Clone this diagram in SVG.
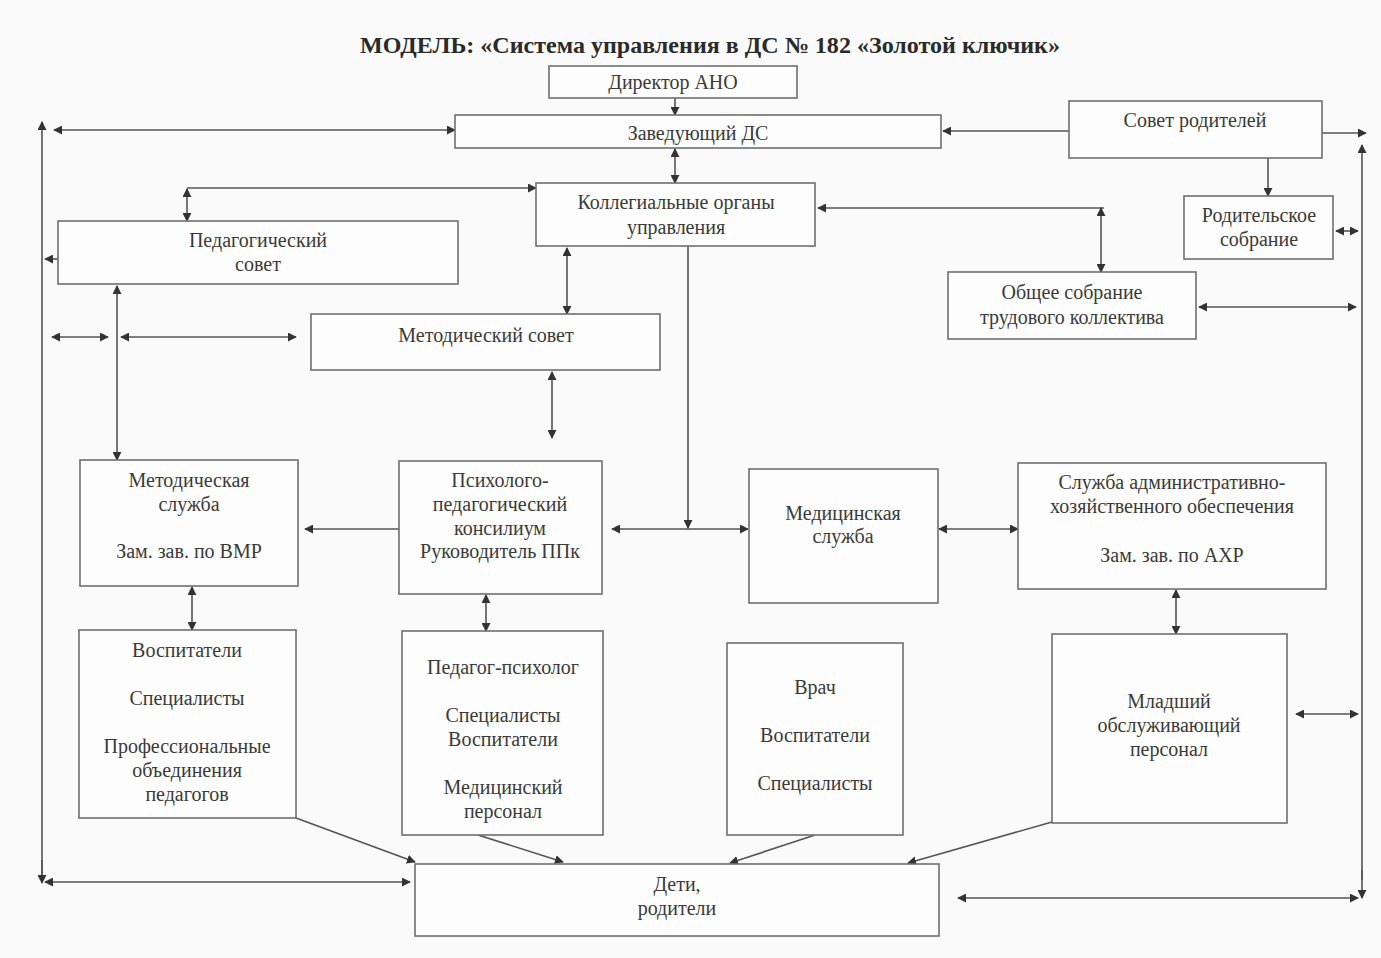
<svg xmlns="http://www.w3.org/2000/svg" width="1381" height="958" viewBox="0 0 1381 958">
<defs>
<marker id="ah" viewBox="0 0 10 10" refX="9" refY="5" markerWidth="9" markerHeight="9" markerUnits="userSpaceOnUse" orient="auto-start-reverse">
<path d="M0,0 L10,5 L0,10 z" fill="#333"/>
</marker>
<style>
.box{fill:#fdfdfd;stroke:#6f6f6f;stroke-width:1.6}
.t{font-family:"Liberation Serif","DejaVu Serif",serif;font-size:20px;fill:#3a3a3a;text-anchor:middle}
.title{font-family:"Liberation Serif","DejaVu Serif",serif;font-size:23px;font-weight:bold;fill:#2a2a2a;text-anchor:middle}
.c{fill:none;stroke:#555;stroke-width:1.6}
.a{marker-end:url(#ah)}
.d{marker-start:url(#ah);marker-end:url(#ah)}
</style>
</defs>
<rect x="0" y="0" width="1381" height="958" fill="#fafafa"/>
<text class="title" x="710" y="53" textLength="700" lengthAdjust="spacingAndGlyphs">МОДЕЛЬ: «Система управления в ДС № 182 «Золотой ключик»</text>

<g id="connectors">
<line class="c a" x1="675" y1="98" x2="675" y2="115"/>
<line class="c d" x1="54" y1="130" x2="455" y2="130"/>
<line class="c a" x1="42" y1="880" x2="42" y2="122"/>
<line class="c a" x1="42" y1="860" x2="42" y2="883"/>
<line class="c a" x1="1069" y1="131" x2="943" y2="131"/>
<line class="c a" x1="1322" y1="133" x2="1366" y2="133"/>
<line class="c a" x1="1362" y1="880" x2="1362" y2="145"/>
<line class="c a" x1="1362" y1="870" x2="1362" y2="898"/>
<line class="c a" x1="1268" y1="158" x2="1268" y2="196"/>
<line class="c d" x1="1336" y1="231" x2="1358" y2="231"/>
<line class="c d" x1="675" y1="149" x2="675" y2="183"/>
<line class="c a" x1="187" y1="188" x2="536" y2="188"/>
<line class="c d" x1="187" y1="189" x2="187" y2="221"/>
<line class="c a" x1="58" y1="259" x2="45" y2="259"/>
<line class="c d" x1="117" y1="286" x2="117" y2="460"/>
<line class="c d" x1="52" y1="337" x2="108" y2="337"/>
<line class="c d" x1="121" y1="337" x2="296" y2="337"/>
<line class="c d" x1="567" y1="248" x2="567" y2="314"/>
<line class="c d" x1="552" y1="372" x2="552" y2="438"/>
<line class="c a" x1="688" y1="246" x2="688" y2="528"/>
<line class="c d" x1="612" y1="529" x2="748" y2="529"/>
<line class="c a" x1="399" y1="529" x2="305" y2="529"/>
<line class="c a" x1="1104" y1="208" x2="818" y2="208"/>
<line class="c d" x1="1101" y1="208" x2="1101" y2="272"/>
<line class="c d" x1="1199" y1="307" x2="1356" y2="307"/>
<line class="c d" x1="939" y1="529" x2="1018" y2="529"/>
<line class="c d" x1="192" y1="587" x2="192" y2="630"/>
<line class="c d" x1="486" y1="595" x2="486" y2="631"/>
<line class="c d" x1="1176" y1="590" x2="1176" y2="634"/>
<line class="c d" x1="1296" y1="714" x2="1358" y2="714"/>
<line class="c d" x1="45" y1="882" x2="410" y2="882"/>
<line class="c d" x1="958" y1="898" x2="1358" y2="898"/>
<line class="c a" x1="296" y1="818" x2="415" y2="862"/>
<line class="c a" x1="478" y1="835" x2="563" y2="862"/>
<line class="c a" x1="815" y1="835" x2="730" y2="863"/>
<line class="c a" x1="1052" y1="822" x2="908" y2="863"/>
</g>

<g id="director"><rect class="box" x="549" y="66" width="248" height="32"/><text class="t" x="673" y="89">Директор АНО</text></g>
<g id="head"><rect class="box" x="455" y="115" width="486" height="33"/><text class="t" x="698" y="140">Заведующий ДС</text></g>
<g id="parents-council"><rect class="box" x="1069" y="101" width="253" height="57"/><text class="t" x="1195" y="127">Совет родителей</text></g>
<g id="collegial"><rect class="box" x="536" y="183" width="279" height="63"/><text class="t" x="676" y="209">Коллегиальные органы</text><text class="t" x="676" y="234">управления</text></g>
<g id="ped-council"><rect class="box" x="58" y="221" width="400" height="63"/><text class="t" x="258" y="247">Педагогический</text><text class="t" x="258" y="271">совет</text></g>
<g id="parents-meeting"><rect class="box" x="1184" y="196" width="149" height="63"/><text class="t" x="1259" y="222">Родительское</text><text class="t" x="1259" y="246">собрание</text></g>
<g id="general-meeting"><rect class="box" x="948" y="272" width="248" height="67"/><text class="t" x="1072" y="299">Общее собрание</text><text class="t" x="1072" y="324">трудового коллектива</text></g>
<g id="method-council"><rect class="box" x="311" y="314" width="349" height="56"/><text class="t" x="486" y="342">Методический совет</text></g>
<g id="method-service"><rect class="box" x="80" y="460" width="218" height="126"/><text class="t" x="189" y="487">Методическая</text><text class="t" x="189" y="511">служба</text><text class="t" x="189" y="558">Зам. зав. по ВМР</text></g>
<g id="ppk"><rect class="box" x="399" y="461" width="203" height="133"/><text class="t" x="500" y="487">Психолого-</text><text class="t" x="500" y="511">педагогический</text><text class="t" x="500" y="535">консилиум</text><text class="t" x="500" y="558">Руководитель ППк</text></g>
<g id="medical"><rect class="box" x="749" y="469" width="189" height="134"/><text class="t" x="843" y="520">Медицинская</text><text class="t" x="843" y="543">служба</text></g>
<g id="aho"><rect class="box" x="1018" y="463" width="308" height="126"/><text class="t" x="1172" y="489">Служба административно-</text><text class="t" x="1172" y="513">хозяйственного обеспечения</text><text class="t" x="1172" y="562">Зам. зав. по АХР</text></g>
<g id="educators"><rect class="box" x="79" y="630" width="217" height="188"/><text class="t" x="187" y="657">Воспитатели</text><text class="t" x="187" y="705">Специалисты</text><text class="t" x="187" y="753">Профессиональные</text><text class="t" x="187" y="777">объединения</text><text class="t" x="187" y="801">педагогов</text></g>
<g id="psychologist"><rect class="box" x="402" y="631" width="201" height="204"/><text class="t" x="503" y="674">Педагог-психолог</text><text class="t" x="503" y="722">Специалисты</text><text class="t" x="503" y="746">Воспитатели</text><text class="t" x="503" y="794">Медицинский</text><text class="t" x="503" y="818">персонал</text></g>
<g id="doctor"><rect class="box" x="727" y="643" width="176" height="192"/><text class="t" x="815" y="694">Врач</text><text class="t" x="815" y="742">Воспитатели</text><text class="t" x="815" y="790">Специалисты</text></g>
<g id="junior-staff"><rect class="box" x="1052" y="634" width="235" height="189"/><text class="t" x="1169" y="708">Младший</text><text class="t" x="1169" y="732">обслуживающий</text><text class="t" x="1169" y="756">персонал</text></g>
<g id="children"><rect class="box" x="415" y="864" width="524" height="72"/><text class="t" x="677" y="891">Дети,</text><text class="t" x="677" y="915">родители</text></g>
</svg>
